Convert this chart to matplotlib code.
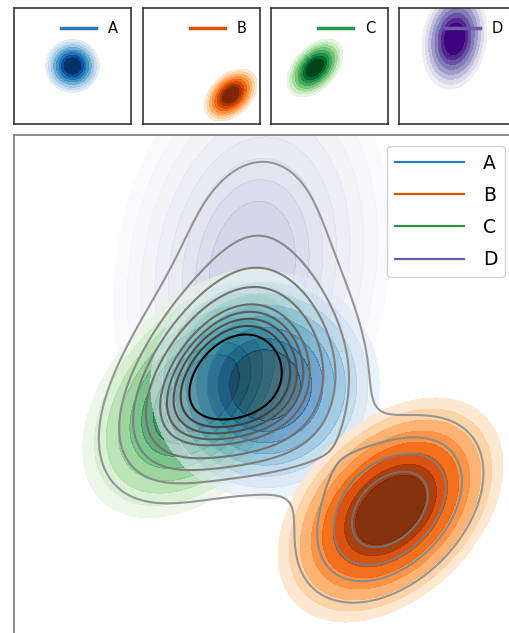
import numpy as np
import matplotlib
matplotlib.use("Agg")
import matplotlib.pyplot as plt
from matplotlib.lines import Line2D

# Components of the mixture: label, colormap, centre, spread, correlation, weight
labels = ["A", "B", "C", "D"]
cmaps = ["Blues", "Oranges", "Greens", "Purples"]
mean_x = [0.0, 1.5, -0.75, -0.15]
mean_y = [0.0, -1.5, -0.1, 1.4]
std_x = [0.65, 0.64, 0.68, 0.79]
std_y = [0.65, 0.64, 0.71, 1.24]
corr = [0.0, 0.4, 0.45, 0.15]
weight = [0.8, 0.66, 0.81, 0.64]

# Filled bands, as a fraction of each component's own peak
band_fracs = np.exp(-0.5 * np.linspace(2.1, 0.65, 8) ** 2)
# Colour ramp span of each component in the combined panel
shade_lo = [0.12, 0.12, 0.12, 0.05]
shade_hi = [1.0, 1.0, 1.0, 0.38]
# Iso-lines of the summed density
total_levels = [0.062, 0.115, 0.165, 0.22, 0.29, 0.325, 0.36, 0.397, 0.44]

LIM = (-3, 3)
gx = np.linspace(-5, 5, 500)
gy = np.linspace(-5, 5, 500)
XX, YY = np.meshgrid(gx, gy)


def gauss2d(mx, my, sx, sy, r):
    dx = (XX - mx) / sx
    dy = (YY - my) / sy
    z = (dx ** 2 - 2 * r * dx * dy + dy ** 2) / (1 - r ** 2)
    return np.exp(-0.5 * z) / (2 * np.pi * sx * sy * np.sqrt(1 - r ** 2))


dens = [weight[i] * gauss2d(mean_x[i], mean_y[i], std_x[i], std_y[i], corr[i])
        for i in range(4)]
line_colors = [plt.get_cmap(c)(0.72) for c in cmaps]


def band_levels(d):
    return list(band_fracs * d.max()) + [d.max() * 1.001]


fig = plt.figure(figsize=(5.09, 6.33), dpi=100)
W, H = 509.0, 633.0


def px_axes(x0, y0, w, h):
    return fig.add_axes([x0 / W, 1 - (y0 + h) / H, w / W, h / H])


nb = len(band_fracs)

# Small panels, one per component
small_x = [14, 143, 271, 399]
for i in range(4):
    ax = px_axes(small_x[i], 8, 117, 116)
    cols = plt.get_cmap(cmaps[i])(np.linspace(0.12, 1.0, nb))
    ax.contourf(XX, YY, dens[i], levels=band_levels(dens[i]), colors=cols)
    ax.set_xlim(*LIM)
    ax.set_ylim(*LIM)
    ax.set_xticks([])
    ax.set_yticks([])
    for s in ax.spines.values():
        s.set_color("#333333")
        s.set_linewidth(1.2)
    ax.legend([Line2D([], [], color=line_colors[i], lw=2.5)], [labels[i]],
              loc="upper right", frameon=False, fontsize=10.5,
              handlelength=2.4, handletextpad=0.8)

# Main panel: all components together plus the overall density
ax = px_axes(14, 135, 502, 500)
draw_order = [3, 2, 0, 1]
fill_alpha = {0: 0.6, 1: 0.95, 2: 0.7, 3: 0.6}
for i in draw_order:
    cols = plt.get_cmap(cmaps[i])(np.linspace(shade_lo[i], shade_hi[i], nb))
    ax.contourf(XX, YY, dens[i], levels=band_levels(dens[i]), colors=cols,
                alpha=fill_alpha[i], antialiased=False)

total = sum(dens)
n = len(total_levels)
tcol = list(plt.get_cmap("Greys")(np.linspace(0.5, 0.8, n - 1))) + ["black"]
ax.contour(XX, YY, total, levels=total_levels, colors=tcol, linewidths=1.5)

ax.set_xlim(*LIM)
ax.set_ylim(*LIM)
ax.set_xticks([])
ax.set_yticks([])
for s in ax.spines.values():
    s.set_color("#7a7a7a")
    s.set_linewidth(1.2)
handles = [Line2D([], [], color=c, lw=1.6) for c in line_colors]
ax.legend(handles, labels, loc="upper right", fontsize=13.5,
          handlelength=3.7, handletextpad=1.0, labelspacing=0.7,
          borderaxespad=0.6, framealpha=0.9)

fig.savefig("out.png", dpi=100)
